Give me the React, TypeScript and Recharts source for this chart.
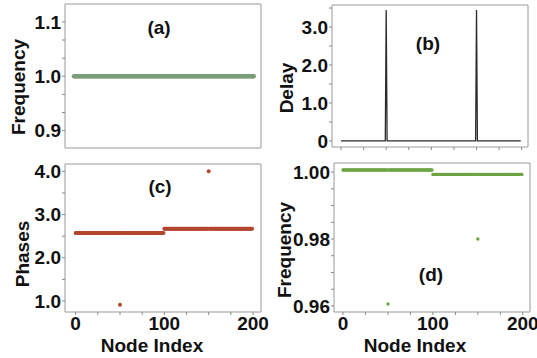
import React from "react";
import { ComposedChart, Scatter, Line, XAxis, YAxis, ReferenceArea } from "recharts";

// node clusters: [first node, last node]
const clusters = [
  [0, 99],
  [100, 199],
];
// nodes that carry a delay (and show up as outliers in (c) and (d))
const delayNodes = [50, 150];
const delayValues = [3.45, 3.45];

const freqALevels = [1.0, 1.0];
const phaseLevels = [2.57, 2.67];
const phaseOutliers = [0.91, 4.0];
const freqDLevels = [1.0006, 0.9993];
const freqDOutliers = [0.9606, 0.98];

const xTicks = [0, 25, 50, 75, 100, 125, 150, 175, 200];
const xTickLabels = ["0", "", "", "", "100", "", "", "", "200"];

const aTicks = [0.9, 0.9333, 0.9667, 1.0, 1.0333, 1.0667, 1.1];
const aTickLabels = ["0.9", "", "", "1.0", "", "", "1.1"];
const bTicks = [0, 0.5, 1, 1.5, 2, 2.5, 3, 3.5];
const bTickLabels = ["0", "", "1.0", "", "2.0", "", "3.0", ""];
const cTicks = [1, 1.5, 2, 2.5, 3, 3.5, 4];
const cTickLabels = ["1.0", "", "2.0", "", "3.0", "", "4.0"];
const dTicks = [0.96, 0.965, 0.97, 0.975, 0.98, 0.985, 0.99, 0.995, 1.0];
const dTickLabels = ["0.96", "", "", "", "0.98", "", "", "", "1.00"];

// expand cluster levels into one point per node, outliers replace the node value
function nodeSeries(levels: number[], outliers?: number[]) {
  const pts: { x: number; y: number }[] = [];
  clusters.forEach(([a, b], ci) => {
    for (let n = a; n <= b; n++) {
      const k = delayNodes.indexOf(n);
      pts.push({ x: n, y: outliers && k >= 0 ? outliers[k] : levels[ci] });
    }
  });
  return pts;
}

const freqAData = nodeSeries(freqALevels);
const delayData = nodeSeries([0, 0], delayValues);
const phaseData = nodeSeries(phaseLevels, phaseOutliers);
const freqDData = nodeSeries(freqDLevels, freqDOutliers);

const FONT = "'Liberation Sans', Arial, sans-serif";
const tickStyle = { fontSize: 19, fontWeight: 700, fill: "#111", fontFamily: FONT };

function dot(color: string, r: number) {
  return (p: any) => <circle cx={p.cx} cy={p.cy} r={r} fill={color} />;
}

function Panel(props: any) {
  const { left, top, width, height, margin, xDomain, yDomain, yTicks, yLabels, yWidth, showX, xLabels, xHeight, data, children } = props;
  return (
    <div style={{ position: "absolute", left, top }}>
      <ComposedChart width={width} height={height} margin={margin} data={data}>
        <XAxis
          type="number"
          dataKey="x"
          domain={xDomain}
          allowDataOverflow
          ticks={xTicks}
          interval={0}
          hide={!showX}
          height={xHeight}
          axisLine={false}
          tickLine={{ stroke: "#888" }}
          tickSize={3}
          tickMargin={2}
          tick={tickStyle}
          tickFormatter={(v: number) => (xLabels ? xLabels[xTicks.indexOf(v)] : "")}
        />
        <YAxis
          type="number"
          dataKey="y"
          domain={yDomain}
          allowDataOverflow
          ticks={yTicks}
          interval={0}
          width={yWidth}
          axisLine={false}
          tickLine={{ stroke: "#888" }}
          tickSize={3}
          tickMargin={1}
          tick={tickStyle}
          tickFormatter={(v: number) => yLabels[yTicks.indexOf(v)] ?? ""}
        />
        <ReferenceArea
          x1={xDomain[0]}
          x2={xDomain[1]}
          y1={yDomain[0]}
          y2={yDomain[1]}
          fill="none"
          fillOpacity={0}
          stroke="#9a9a9a"
          strokeWidth={1}
        />
        {children}
      </ComposedChart>
    </div>
  );
}

function Title({ x, y, text, rotate = false, size = 19 }: any) {
  return (
    <div
      style={{
        position: "absolute",
        left: x,
        top: y,
        transform: `translate(-50%, -50%)${rotate ? " rotate(-90deg)" : ""}`,
        fontFamily: FONT,
        fontWeight: 700,
        fontSize: size,
        lineHeight: 1,
        whiteSpace: "nowrap",
        color: "#111",
      }}
    >
      {text}
    </div>
  );
}

export default function App() {
  return (
    <div style={{ position: "absolute", left: 0, top: 0, width: 537, height: 358, background: "#fff", overflow: "hidden" }}>
      {/* (a) */}
      <Panel
        left={0} top={0} width={270} height={160}
        margin={{ top: 4, right: 9, bottom: 12, left: 0 }}
        xDomain={[-10, 207]} yDomain={[0.868, 1.133]}
        yTicks={aTicks} yLabels={aTickLabels} yWidth={65}
        showX={false}
      >
        <Scatter data={freqAData} shape={dot("#7b9e79", 2.2)} isAnimationActive={false} />
      </Panel>

      {/* (b) */}
      <Panel
        left={267} top={0} width={270} height={160}
        margin={{ top: 5, right: 9, bottom: 5, left: 0 }}
        xDomain={[-10, 207]} yDomain={[-0.16, 3.58]}
        yTicks={bTicks} yLabels={bTickLabels} yWidth={65}
        showX={true} xHeight={8}
        data={delayData}
      >
        <Line type="linear" dataKey="y" stroke="#2b2b2b" strokeWidth={1.3} dot={false} isAnimationActive={false} />
      </Panel>

      {/* (c) */}
      <Panel
        left={0} top={160} width={270} height={198}
        margin={{ top: 4, right: 9, bottom: 18, left: 0 }}
        xDomain={[-12, 209]} yDomain={[0.744, 4.17]}
        yTicks={cTicks} yLabels={cTickLabels} yWidth={65}
        showX={true} xLabels={xTickLabels} xHeight={28}
      >
        <Scatter data={phaseData} shape={dot("#b4452e", 2)} isAnimationActive={false} />
      </Panel>

      {/* (d) */}
      <Panel
        left={267} top={160} width={270} height={198}
        margin={{ top: 3, right: 7, bottom: 18, left: 0 }}
        xDomain={[-10, 208]} yDomain={[0.9582, 1.0027]}
        yTicks={dTicks} yLabels={dTickLabels} yWidth={67}
        showX={true} xLabels={xTickLabels} xHeight={28}
      >
        <Scatter data={freqDData} shape={dot("#6ea544", 1.7)} isAnimationActive={false} />
      </Panel>

      <Title x={18} y={87} text="Frequency" rotate />
      <Title x={286} y={88} text="Delay" rotate />
      <Title x={22} y={254} text="Phases" rotate />
      <Title x={284} y={250} text="Frequency" rotate />
      <Title x={152} y={345} text="Node Index" />
      <Title x={415} y={345} text="Node Index" />

      <Title x={159} y={27} text="(a)" />
      <Title x={428} y={43} text="(b)" />
      <Title x={160} y={186} text="(c)" />
      <Title x={431} y={274} text="(d)" />
    </div>
  );
}
